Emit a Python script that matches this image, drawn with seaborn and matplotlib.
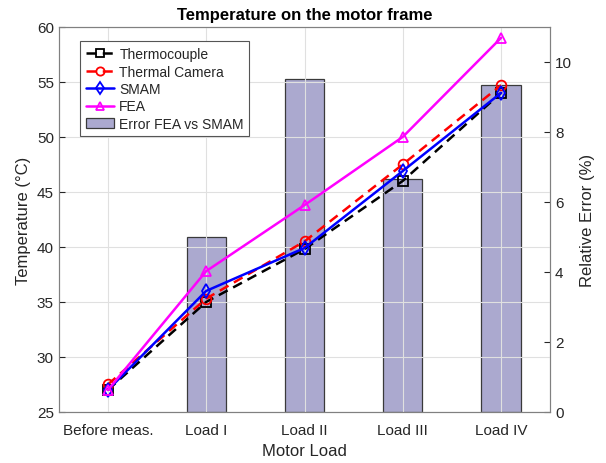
import numpy as np
import pandas as pd
import matplotlib
matplotlib.use("Agg")
import matplotlib.pyplot as plt
import seaborn as sns
from matplotlib.patches import Patch

categories = ["Before meas.", "Load I", "Load II", "Load III", "Load IV"]
thermocouple = [27.0, 35.0, 39.8, 46.0, 54.0]
thermal_camera = [27.5, 35.3, 40.5, 47.5, 54.7]
smam = [27.0, 36.0, 39.9, 46.9, 54.0]
fea = [27.0, 37.8, 43.8, 50.0, 59.0]
error_fea_smam = [0.0, 5.0, 9.5, 6.65, 9.35]

sns.set_theme(style="white")
plt.rcParams['font.family'] = ['Liberation Sans', 'DejaVu Sans']
txt = '#262626'

fig = plt.figure(figsize=(6.06, 4.64), dpi=100)
ax = fig.add_axes([0.097, 0.110, 0.811, 0.830])
ax2 = ax.twinx()
ax.set_zorder(ax2.get_zorder() + 1)
ax.patch.set_visible(False)

# bars on right axis
sns.barplot(x=categories, y=error_fea_smam, ax=ax2, width=0.4,
            color='#aba9cf', saturation=1, edgecolor='#3a3a3a', linewidth=0.9)
for p in ax2.patches:
    if p.get_height() == 0:
        p.set_linewidth(0)
ax2.set_ylim(0, 11)
ax2.set_yticks([0, 2, 4, 6, 8, 10])
ax2.set_ylabel("Relative Error (%)", fontsize=12, color=txt, labelpad=6)

xs = np.arange(len(categories))
series = [
    ("Thermocouple", thermocouple, 'black', (0, (4, 2.5)), 's'),
    ("Thermal Camera", thermal_camera, 'red', (0, (4, 2.5)), 'o'),
    ("SMAM", smam, 'blue', '-', 'd'),
    ("FEA", fea, 'magenta', '-', '^'),
]
for name, vals, col, ls, mk in series:
    sns.lineplot(x=xs, y=vals, ax=ax, color=col, linewidth=1.8, linestyle=ls,
                 marker=mk, markersize=7, markerfacecolor='none',
                 markeredgecolor=col, markeredgewidth=1.3, label=name)

ax.set_xlim(-0.5, 4.5)
ax.set_ylim(25, 60)
ax.set_yticks(range(25, 61, 5))
ax.set_xticks(xs)
ax.set_xticklabels(categories)
ax.set_xlabel("Motor Load", fontsize=12, color=txt)
ax.set_ylabel("Temperature (°C)", fontsize=12, color=txt)
ax.set_title("Temperature on the motor frame", fontsize=12, fontweight='bold', color='black')
ax.grid(True, color='#e0e0e0', linewidth=0.8)
ax2.grid(False)

for a in (ax, ax2):
    a.tick_params(axis='both', direction='in', length=4, labelsize=11, colors=txt, width=0.8)
    for sp in a.spines.values():
        sp.set_color('#808080')
        sp.set_linewidth(0.8)
ax.tick_params(axis='x', pad=8)

h1, l1 = ax.get_legend_handles_labels()
bar_handle = Patch(facecolor='#aba9cf', edgecolor='#3a3a3a', linewidth=0.9)
leg = ax.legend(h1 + [bar_handle], l1 + ["Error FEA vs SMAM"], loc='upper left',
                bbox_to_anchor=(0.03, 0.98), fontsize=10, frameon=True, fancybox=False,
                handlelength=2.0, handletextpad=0.4, borderpad=0.4, labelspacing=0.25,
                edgecolor='#555555', framealpha=1, markerscale=0.85)
leg.get_frame().set_linewidth(0.8)

fig.savefig("out.png", dpi=100)
